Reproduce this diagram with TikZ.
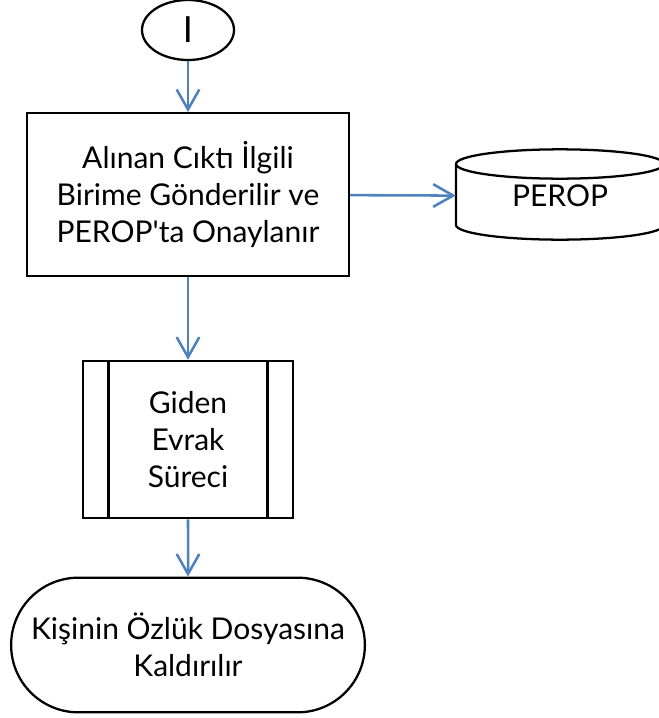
\documentclass[tikz,border=0pt]{standalone}
\usepackage{fontspec}
\setmainfont{Lato}
\usetikzlibrary{shapes.geometric,shapes.misc,arrows.meta}
\definecolor{flowblue}{RGB}{79,129,189}
\tikzset{
	shp/.style={draw, line width=1.7pt, align=center, font=\fontsize{22.5}{27.5}\selectfont},
	flow/.style={draw=flowblue, line width=1.9pt, -{Straight Barb[length=15pt,width=17pt,line width=1.9pt]}}
}

\begin{document}
\begin{tikzpicture}[x=0.75pt,y=-0.75pt]
	\useasboundingbox (0,0) rectangle (659,718);
	% Connector at the top
	\node[shp, ellipse, minimum width=69pt, minimum height=45pt, inner sep=0pt, font=\fontsize{27}{30}\selectfont] (bag) at (188,30) {I};
	% Process box
	\node[shp, rectangle, minimum width=241.5pt, minimum height=122pt] (onay) at (188,194.5) {Alınan Cıktı İlgili\\Birime Gönderilir ve\\PEROP\textquotesingle ta Onaylanır};
	% Database
	\node[font=\fontsize{22.5}{27.5}\selectfont, minimum width=156pt, inner sep=0pt] (db) at (560,196) {PEROP};
	\draw[line width=1.7pt] (560,164) ellipse [x radius=78pt, y radius=11pt];
	\draw[line width=1.7pt] (456,164) -- (456,225) arc [start angle=180, end angle=360, x radius=78pt, y radius=11pt] -- (664,164);
	% Subprocess
	\node[shp, rectangle, minimum width=157.5pt, minimum height=118pt] (evrak) at (188,439.5) {Giden\\Evrak\\Süreci};
	\draw[line width=1.7pt] ([xshift=20pt]evrak.north west) -- ([xshift=20pt]evrak.south west);
	\draw[line width=1.7pt] ([xshift=-20pt]evrak.north east) -- ([xshift=-20pt]evrak.south east);
	% End
	\node[shp, rounded rectangle, minimum width=272pt, minimum height=101pt] (son) at (188,645) {Kişinin Özlük Dosyasına\\Kaldırılır};
	% Arrows
	\draw[flow] (bag) -- (onay);
	\draw[flow] (onay) -- (db);
	\draw[flow] (onay) -- (evrak);
	\draw[flow] (evrak) -- (son);
\end{tikzpicture}
\end{document}
